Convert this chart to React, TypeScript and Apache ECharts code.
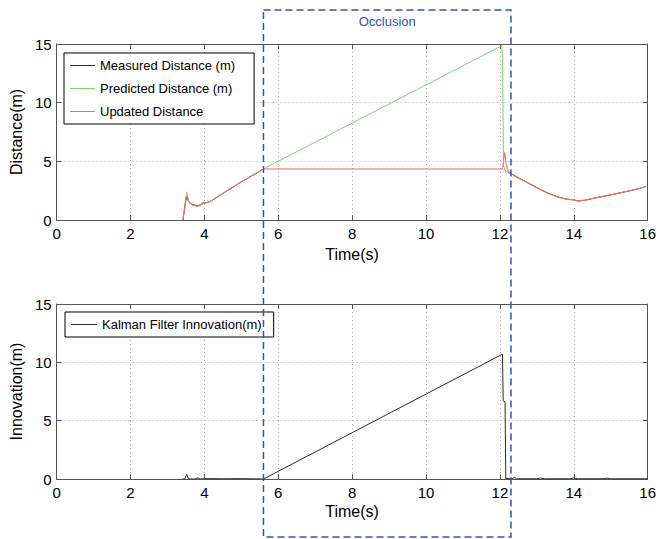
import React, { useEffect, useRef } from "react";
import * as echarts from "echarts";

// ---- data ----
const measuredT1 = [3.42, 3.5, 3.53, 3.58, 3.66, 3.8, 3.9, 3.97, 4.05, 4.15, 4.3, 4.5, 4.75, 5.0, 5.25, 5.45, 5.6];
const measuredD1 = [0, 1.7, 1.95, 1.55, 1.35, 1.2, 1.3, 1.47, 1.47, 1.58, 1.85, 2.27, 2.74, 3.26, 3.7, 4.06, 4.35];
const measuredT2 = [12.12, 12.16, 12.22, 12.3, 12.4, 12.5, 12.65, 12.8, 12.95, 13.1, 13.3, 13.54, 13.77, 13.99, 14.12, 14.3, 14.44, 14.65, 14.89, 15.1, 15.33, 15.6, 15.8, 15.96];
const measuredD2 = [4.3, 4.18, 4.06, 3.96, 3.77, 3.6, 3.36, 3.1, 2.86, 2.6, 2.3, 2.0, 1.8, 1.72, 1.63, 1.68, 1.78, 1.92, 2.07, 2.2, 2.36, 2.55, 2.7, 2.87];

const predictedT = [3.42, 3.5, 3.52, 3.58, 3.66, 3.8, 3.9, 3.97, 4.05, 4.15, 4.3, 4.5, 4.75, 5.0, 5.25, 5.45, 5.6, 12.05, 12.07, 12.1, 12.15, 12.22, 12.3, 12.4, 12.5, 12.65, 12.8, 12.95, 13.1, 13.3, 13.54, 13.77, 13.99, 14.12, 14.3, 14.44, 14.65, 14.89, 15.1, 15.33, 15.6, 15.8, 15.96];
const predictedD = [0, 2.0, 2.4, 1.5, 1.3, 1.18, 1.28, 1.42, 1.48, 1.58, 1.88, 2.28, 2.78, 3.28, 3.72, 4.08, 4.35, 14.85, 13.8, 4.6, 4.2, 4.04, 3.92, 3.73, 3.56, 3.32, 3.08, 2.82, 2.56, 2.27, 1.97, 1.77, 1.7, 1.62, 1.67, 1.8, 1.94, 2.08, 2.22, 2.38, 2.56, 2.72, 2.88];

const updatedT = [3.42, 3.5, 3.52, 3.58, 3.66, 3.8, 3.9, 3.97, 4.05, 4.15, 4.3, 4.5, 4.75, 5.0, 5.25, 5.45, 5.6, 12.07, 12.1, 12.13, 12.17, 12.2, 12.3, 12.4, 12.5, 12.65, 12.8, 12.95, 13.1, 13.3, 13.54, 13.77, 13.99, 14.12, 14.3, 14.44, 14.65, 14.89, 15.1, 15.33, 15.6, 15.8, 15.96];
const updatedD = [0, 1.8, 2.05, 1.55, 1.3, 1.15, 1.25, 1.4, 1.45, 1.55, 1.85, 2.25, 2.75, 3.25, 3.7, 4.05, 4.35, 4.35, 5.0, 5.75, 4.8, 4.3, 3.95, 3.76, 3.59, 3.35, 3.09, 2.84, 2.58, 2.29, 1.99, 1.79, 1.72, 1.64, 1.69, 1.79, 1.93, 2.07, 2.21, 2.37, 2.56, 2.71, 2.87];

const innovationT = [3.4, 3.47, 3.52, 3.57, 3.75, 3.82, 3.88, 4.0, 4.5, 5.0, 5.6, 12.07, 12.09, 12.14, 12.16, 12.35, 12.4, 12.45, 13.0, 13.1, 13.2, 13.9, 14.0, 14.1, 14.8, 14.9, 15.0, 16.0];
const innovationV = [0, 0, 0.4, 0, 0, 0.1, 0, 0.03, 0.02, 0.03, 0, 10.7, 6.7, 6.6, 0.05, 0.05, 0.15, 0.02, 0.02, 0.08, 0.02, 0.02, 0.1, 0.02, 0.02, 0.08, 0.02, 0.02];

const xTicks = { min: 0, max: 16, interval: 2 };
const yTicks = { min: 0, max: 15, interval: 5 };
const occlusionStart = 5.6;
const occlusionEnd = 12.3;

const zip = (t: number[], v: number[]) => t.map((x, i) => [x, v[i]]);

const FONT = "Liberation Sans, Arial, Helvetica, sans-serif";
const BLACK = "#2a2a2a";
const GREEN = "#78d46c";
const RED = "#ff6464";
const BLUE = "#3253b8";

function mkX(gridIndex: number, top: boolean) {
  return {
    type: "value",
    gridIndex,
    position: top ? "top" : "bottom",
    min: xTicks.min,
    max: xTicks.max,
    interval: xTicks.interval,
    name: top ? "" : "Time(s)",
    nameLocation: "middle",
    nameGap: gridIndex === 0 ? 26 : 24,
    nameTextStyle: { fontFamily: FONT, fontSize: 16, color: "#000" },
    axisLine: { show: true, onZero: false, lineStyle: { color: "#555", width: 1 } },
    axisTick: { show: true, inside: true, length: 5, lineStyle: { color: "#555" } },
    axisLabel: { show: !top, margin: 6, fontFamily: FONT, fontSize: 15, color: "#000" },
    splitLine: { show: !top, lineStyle: { color: "#aaa", type: [1, 3] } },
  };
}

function mkY(gridIndex: number, right: boolean, name: string) {
  return {
    type: "value",
    gridIndex,
    position: right ? "right" : "left",
    min: yTicks.min,
    max: yTicks.max,
    interval: yTicks.interval,
    name: right ? "" : name,
    nameLocation: "middle",
    nameGap: 27,
    nameRotate: 90,
    nameTextStyle: { fontFamily: FONT, fontSize: 16, color: "#000" },
    axisLine: { show: true, onZero: false, lineStyle: { color: "#555", width: 1 } },
    axisTick: { show: true, inside: true, length: 5, lineStyle: { color: "#555" } },
    axisLabel: { show: !right, margin: 5, fontFamily: FONT, fontSize: 15, color: "#000" },
    splitLine: { show: !right, lineStyle: { color: "#aaa", type: [1, 3] } },
  };
}

function line(name: string, color: string, data: number[][], xi: number, yi: number) {
  return {
    type: "line",
    name,
    xAxisIndex: xi,
    yAxisIndex: yi,
    data,
    symbol: "none",
    showSymbol: false,
    color,
    lineStyle: { color, width: 1 },
    itemStyle: { color },
    silent: true,
  };
}

export default function App() {
  const ref = useRef<HTMLDivElement>(null);
  useEffect(() => {
    if (!ref.current) return;
    const chart = echarts.init(ref.current, undefined, { renderer: "svg" });
    const legendText = { fontFamily: FONT, fontSize: 13, color: "#000", lineHeight: 15 };
    chart.setOption({
      animation: false,
      backgroundColor: "#fff",
      grid: [
        { left: 53, top: 44, width: 595, height: 176, containLabel: false },
        { left: 53, top: 304, width: 595, height: 175, containLabel: false },
      ],
      xAxis: [mkX(0, false), mkX(0, true), mkX(1, false), mkX(1, true)],
      yAxis: [
        mkY(0, false, "Distance(m)"),
        mkY(0, true, ""),
        mkY(1, false, "Innovation(m)"),
        mkY(1, true, ""),
      ],
      legend: [
        {
          orient: "vertical",
          left: 64,
          top: 53,
          data: ["Measured Distance (m)", "Predicted Distance (m)", "Updated Distance"],
          icon: "rect",
          itemWidth: 25,
          itemHeight: 1,
          itemGap: 8,
          padding: [5, 19, 5, 6],
          borderColor: "#000",
          borderWidth: 1,
          backgroundColor: "#fff",
          borderRadius: 0,
          textStyle: legendText,
          selectedMode: false,
        },
        {
          orient: "vertical",
          left: 65,
          top: 312,
          data: ["Kalman Filter Innovation(m)"],
          icon: "rect",
          itemWidth: 26,
          itemHeight: 1,
          padding: [5, 12, 5, 6],
          borderColor: "#000",
          borderWidth: 1,
          backgroundColor: "#fff",
          borderRadius: 0,
          textStyle: legendText,
          selectedMode: false,
        },
      ],
      series: [
        line("Measured Distance (m)", BLACK, zip(measuredT1, measuredD1), 0, 0),
        line("Measured Distance (m)", BLACK, zip(measuredT2, measuredD2), 0, 0),
        line("Predicted Distance (m)", GREEN, zip(predictedT, predictedD), 0, 0),
        line("Updated Distance", RED, zip(updatedT, updatedD), 0, 0),
        line("Kalman Filter Innovation(m)", BLACK, zip(innovationT, innovationV), 2, 2),
      ],
    });
    const x0 = chart.convertToPixel({ xAxisIndex: 0 }, occlusionStart) as number;
    const x1 = chart.convertToPixel({ xAxisIndex: 0 }, occlusionEnd) as number;
    chart.setOption({
      graphic: [
        {
          type: "rect",
          shape: { x: x0, y: 10, width: x1 - x0, height: 527 },
          style: { fill: "none", stroke: BLUE, lineWidth: 1.5, lineDash: [7, 4] },
          z: 100,
          silent: true,
        },
        {
          type: "text",
          x: (x0 + x1) / 2,
          y: 21,
          style: {
            text: "Occlusion",
            fill: BLUE,
            font: `13px ${FONT}`,
            align: "center",
            verticalAlign: "middle",
          },
          z: 100,
          silent: true,
        },
      ],
    });
    return () => chart.dispose();
  }, []);
  return (
    <div
      ref={ref}
      style={{ position: "fixed", left: 0, top: 0, width: 659, height: 539, background: "#fff" }}
    />
  );
}
